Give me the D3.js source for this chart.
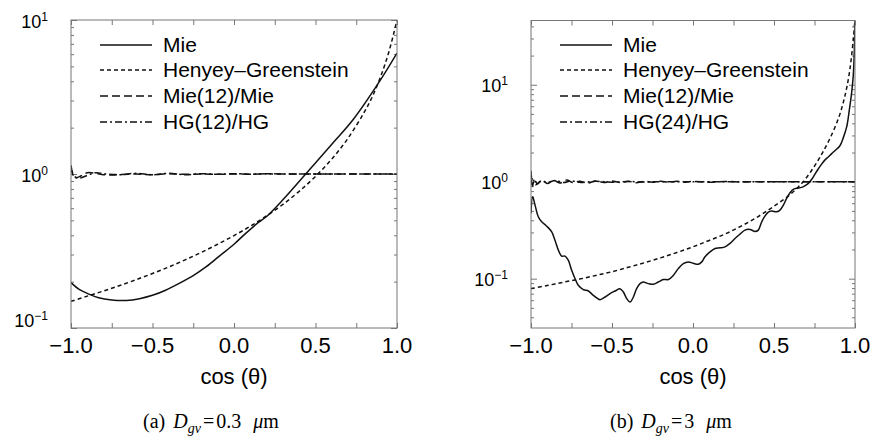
<!DOCTYPE html>
<html>
<head>
<meta charset="utf-8">
<script src="https://cdn.jsdelivr.net/npm/d3@7"></script>
<style>
body{margin:0;background:#fff;}
svg{display:block;}
</style>
</head>
<body>
<svg id="chart" width="871" height="438"></svg>
<script>
// ---- data: [cos(theta), value] ----
var xTickValues = [-1, -0.75, -0.5, -0.25, 0, 0.25, 0.5, 0.75, 1];
var xLabelValues = [-1, -0.5, 0, 0.5, 1];
var yLabelValues = [0.1, 1, 10];

var legendA = ["Mie", "Henyey\u2013Greenstein", "Mie(12)/Mie", "HG(12)/HG"];
var legendB = ["Mie", "Henyey\u2013Greenstein", "Mie(12)/Mie", "HG(24)/HG"];

var mieA = [[-1.0,0.197],[-0.95,0.178],[-0.89,0.166],[-0.83,0.157],[-0.75,0.152],[-0.66,0.151],
  [-0.58,0.155],[-0.5,0.163],[-0.42,0.176],[-0.34,0.194],[-0.25,0.219],[-0.17,0.25],[-0.09,0.293],
  [0.0,0.35],[0.07,0.41],[0.15,0.485],[0.2,0.53],[0.3,0.68],[0.44,1.0],[0.6,1.56],[0.73,2.25],
  [0.89,3.95],[1.0,6.1]];
var hgA = [[-1,0.149],[-0.9,0.161],[-0.8,0.174],[-0.7,0.189],[-0.6,0.206],[-0.5,0.226],[-0.4,0.249],
  [-0.3,0.277],[-0.2,0.31],[-0.1,0.35],[0,0.398],[0.1,0.458],[0.2,0.535],[0.3,0.635],[0.4,0.772],
  [0.5,0.965],[0.6,1.25],[0.7,1.71],[0.8,2.53],[0.85,3.2],[0.9,4.3],[0.95,6.2],[1.0,10]];
var mieRatioA = [[-1,1.14],[-0.99,1.02],[-0.97,0.95],[-0.94,0.97],[-0.9,1.02],[-0.85,1.01],[-0.8,0.99],
  [-0.75,0.985],[-0.7,0.99],[-0.6,1.0],[-0.5,0.99],[-0.4,1.005],[-0.3,0.995],[-0.2,1.0],[-0.1,0.995],
  [0,1.0],[0.1,0.997],[0.2,1.002],[0.3,1.0],[0.6,1.0],[1,1.0]];
var hgRatioA = [[-1,1.08],[-0.98,0.96],[-0.95,0.94],[-0.9,0.98],[-0.85,1.02],[-0.8,1.005],[-0.7,0.99],
  [-0.6,1.01],[-0.5,0.99],[-0.4,1.01],[-0.3,0.99],[-0.2,1.005],[-0.1,0.995],[0,1.005],[0.1,0.997],
  [0.2,1.003],[0.3,1.0],[0.6,1.0],[1,1.0]];

var mieB = [[-1.0,0.47],[-0.99,0.70],[-0.975,0.574],[-0.955,0.435],[-0.934,0.386],[-0.903,0.348],
  [-0.872,0.304],[-0.852,0.249],[-0.831,0.197],[-0.811,0.171],[-0.79,0.171],[-0.77,0.155],
  [-0.749,0.122],[-0.728,0.1],[-0.708,0.0855],[-0.677,0.077],[-0.646,0.0746],[-0.615,0.0673],
  [-0.574,0.0608],[-0.543,0.0647],[-0.512,0.0702],[-0.481,0.0746],[-0.451,0.0789],[-0.43,0.0728],
  [-0.409,0.0622],[-0.389,0.0574],[-0.368,0.0647],[-0.348,0.0789],[-0.327,0.0889],[-0.307,0.0925],
  [-0.276,0.0889],[-0.245,0.0875],[-0.214,0.0925],[-0.183,0.098],[-0.152,0.098],[-0.122,0.108],
  [-0.091,0.127],[-0.06,0.143],[-0.029,0.149],[0.002,0.144],[0.033,0.141],[0.054,0.149],[0.074,0.168],
  [0.105,0.189],[0.136,0.205],[0.167,0.208],[0.198,0.213],[0.228,0.231],[0.259,0.26],[0.29,0.288],
  [0.321,0.317],[0.352,0.322],[0.383,0.307],[0.403,0.317],[0.424,0.386],[0.444,0.442],[0.465,0.486],
  [0.486,0.498],[0.517,0.49],[0.537,0.509],[0.558,0.574],[0.578,0.673],[0.599,0.769],[0.619,0.834],
  [0.64,0.854],[0.671,0.875],[0.691,0.91],[0.712,0.962],[0.733,1.06],[0.753,1.2],[0.774,1.36],
  [0.794,1.52],[0.815,1.68],[0.835,1.8],[0.856,1.95],[0.877,2.1],[0.907,2.35],[0.928,2.85],
  [0.949,3.7],[0.965,5.5],[0.979,8.2],[0.989,12.2],[0.996,23],[1.0,50]];
var hgB = [[-1,0.079],[-0.9,0.085],[-0.8,0.092],[-0.7,0.099],[-0.6,0.108],[-0.5,0.118],[-0.4,0.131],
  [-0.3,0.146],[-0.2,0.164],[-0.1,0.186],[0,0.213],[0.1,0.248],[0.2,0.29],[0.3,0.35],[0.4,0.435],
  [0.5,0.56],[0.6,0.74],[0.68,1.0],[0.75,1.45],[0.8,2.0],[0.85,2.9],[0.9,4.6],[0.93,6.8],[0.95,9.5],
  [0.97,15],[0.99,30],[1.0,48]];
var mieRatioB = [[-1,1.3],[-0.99,0.9],[-0.98,1.05],[-0.96,0.95],[-0.93,1.04],[-0.9,0.96],[-0.86,1.03],
  [-0.82,0.97],[-0.78,1.04],[-0.74,0.98],[-0.7,1.01],[-0.65,0.97],[-0.6,1.02],[-0.55,0.98],[-0.5,1.02],
  [-0.45,0.98],[-0.4,1.01],[-0.35,0.975],[-0.3,1.01],[-0.25,0.99],[-0.2,1.01],[-0.15,0.99],[-0.1,1.01],
  [-0.05,0.99],[0,1.005],[0.1,0.99],[0.2,1.005],[0.3,0.995],[0.4,1.0],[0.5,1.0],[1,1.0]];
var hgRatioB = [[-1,0.92],[-0.99,1.1],[-0.97,0.93],[-0.94,1.02],[-0.9,0.98],[-0.85,1.03],[-0.8,0.98],
  [-0.75,1.02],[-0.7,0.985],[-0.6,1.01],[-0.5,0.99],[-0.4,1.005],[-0.3,0.995],[-0.2,1.0],[0,1.0],[1,1.0]];

var dashes = [null, "4,3", "8,4", "7,3,2,3"];

var svg = d3.select("#chart");
svg.append("rect").attr("width",871).attr("height",438).attr("fill","#fff");

function fmtX(d){
    return (d < 0 ? "\u2212" : "") + Math.abs(d).toFixed(1);
}

function drawPanel(p){
    var g = svg.append("g");
    var x = d3.scaleLinear().domain([-1,1]).range([p.left,p.right]);
    var y = d3.scaleLog().domain(p.yDomain).range([p.bottom,p.top]);

    var clipID = p.id+"_clip";
    svg.append("clipPath").attr("id",clipID).append("rect")
        .attr("x",p.left).attr("y",p.top)
        .attr("width",p.right-p.left).attr("height",p.bottom-p.top);

    // log minor / major ticks
    var minor = [], major = [];
    for(var e=-3;e<=2;e++){
        for(var k=1;k<=9;k++){
            var v = +(k*Math.pow(10,e)).toPrecision(3);
            if(v < p.yDomain[0] || v > p.yDomain[1]) continue;
            if(k==1) major.push(v); else minor.push(v);
        }
    }

    var axes = g.append("g").attr("class","axes");
    axes.append("g").attr("transform","translate(0,"+p.bottom+")")
        .call(d3.axisBottom(x).tickValues(xTickValues).tickSize(-5).tickFormat(""));
    axes.append("g").attr("transform","translate(0,"+p.top+")")
        .call(d3.axisTop(x).tickValues(xTickValues).tickSize(-5).tickFormat(""));
    axes.append("g").attr("transform","translate("+p.left+",0)")
        .call(d3.axisLeft(y).tickValues(minor).tickSize(-3).tickFormat(""));
    axes.append("g").attr("transform","translate("+p.left+",0)")
        .call(d3.axisLeft(y).tickValues(major).tickSize(-6).tickFormat(""));
    axes.append("g").attr("transform","translate("+p.right+",0)")
        .call(d3.axisRight(y).tickValues(minor).tickSize(-3).tickFormat(""));
    axes.append("g").attr("transform","translate("+p.right+",0)")
        .call(d3.axisRight(y).tickValues(major).tickSize(-6).tickFormat(""));
    axes.selectAll(".domain").remove();
    axes.selectAll(".tick line").attr("stroke","#777").attr("stroke-width",1);

    // curves
    var line = d3.line()
        .x(function(d){ return x(d[0]); })
        .y(function(d){ return y(d[1]); })
        .curve(d3.curveCatmullRom.alpha(0.5));
    var series = [p.hgRatio, p.mieRatio, p.hg, p.mie];
    var seriesDash = [dashes[3], dashes[2], dashes[1], dashes[0]];
    series.forEach(function(s,i){
        g.append("path").attr("d",line(s))
            .attr("clip-path","url(#"+clipID+")")
            .attr("fill","none").attr("stroke","#111")
            .attr("stroke-width",1.5)
            .attr("stroke-dasharray",seriesDash[i]);
    });

    // frame
    g.append("rect").attr("x",p.left).attr("y",p.top)
        .attr("width",p.right-p.left).attr("height",p.bottom-p.top)
        .attr("fill","none").attr("stroke","#777").attr("stroke-width",1);

    // x tick labels
    g.selectAll(".xlab").data(xLabelValues).enter().append("text")
        .attr("x",function(d){ return x(d); }).attr("y",353)
        .attr("text-anchor","middle")
        .style("font-family","'Liberation Sans', Arial, sans-serif")
        .style("font-size","22px")
        .text(fmtX);

    // y tick labels (10^n)
    yLabelValues.forEach(function(v){
        var ex = Math.round(Math.log10(v));
        var yy = Math.min(y(v)+7.5, p.bottom-1);
        var t = g.append("text").attr("x",p.left-23).attr("y",yy)
            .attr("text-anchor","end")
            .style("font-family","'Liberation Sans', Arial, sans-serif")
            .style("font-size","18px");
        t.append("tspan").text("10");
        t.append("tspan").attr("dy",-7).style("font-size","12px")
            .text(ex < 0 ? "\u2212"+Math.abs(ex) : ""+ex);
    });

    // x axis title
    g.append("text").attr("x",(p.left+p.right)/2).attr("y",384)
        .attr("text-anchor","middle")
        .style("font-family","'Liberation Sans', Arial, sans-serif")
        .style("font-size","22px")
        .text("cos (\u03b8)");

    // legend
    var legRows = [45, 70, 96, 122];
    p.legend.forEach(function(lab,i){
        var ly = legRows[i];
        g.append("line").attr("x1",p.left+29).attr("x2",p.left+81)
            .attr("y1",ly).attr("y2",ly)
            .attr("stroke","#111").attr("stroke-width",1.3)
            .attr("stroke-dasharray",dashes[i]);
        g.append("text").attr("x",p.left+92).attr("y",ly+7)
            .style("font-family","'Liberation Sans', Arial, sans-serif")
            .style("font-size","21px")
            .text(lab);
    });

    // caption
    var c = g.append("text").attr("x",p.capX).attr("y",428)
        .style("font-family","'Liberation Serif', 'Times New Roman', serif")
        .style("font-size","20px");
    c.append("tspan").text(p.capTag);
    c.append("tspan").attr("dx",8).style("font-style","italic").text("D");
    c.append("tspan").attr("dy",5).style("font-style","italic").style("font-size","14px").text("gv");
    c.append("tspan").attr("dy",-5).attr("dx",2).text("=");
    c.append("tspan").attr("dx",2).text(p.capValue);
    c.append("tspan").attr("dx",12).style("font-style","italic").text("\u03bc");
    c.append("tspan").text("m");
}

drawPanel({id:"pa", left:71, right:397, top:20, bottom:328, yDomain:[0.1,10],
    mie:mieA, hg:hgA, mieRatio:mieRatioA, hgRatio:hgRatioA, legend:legendA,
    capX:143, capTag:"(a)", capValue:"0.3"});
drawPanel({id:"pb", left:531, right:855, top:20.5, bottom:328, yDomain:[0.031,46],
    mie:mieB, hg:hgB, mieRatio:mieRatioB, hgRatio:hgRatioB, legend:legendB,
    capX:610, capTag:"(b)", capValue:"3"});
</script>
</body>
</html>
